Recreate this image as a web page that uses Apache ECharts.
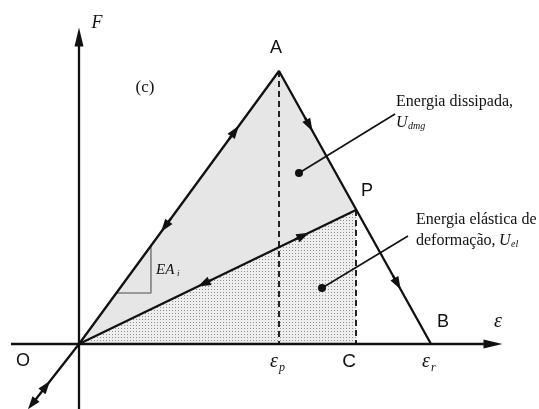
<!DOCTYPE html>
<html>
<head>
<meta charset="utf-8">
<script src="https://cdn.jsdelivr.net/npm/echarts@6/dist/echarts.min.js"></script>
<style>
  html, body { margin: 0; padding: 0; background: #ffffff; }
  #chart { width: 539px; height: 409px; }
</style>
</head>
<body>
<div id="chart"></div>
<script>
// Force–strain path of a damaged element (strain ε, force F), arbitrary units
const pointO = [0, 0];
const pointA = [200, 273];   // peak of loading: (ε_p, F_max)
const pointP = [277, 134];   // point reached on the softening branch
const pointC = [277, 0];     // strain at P
const pointB = [352, 0];     // ε_r, end of softening
const tailEnd = [-50, -64];  // compression branch below the origin

// Axis extents (strain axis and force axis)
const strainAxis = [-68, 423];
const forceAxis = [-65, 316];

// Labels placed along the strain axis
const strainTicks = ['ε', 'C', 'ε'];
const strainTickSubs = ['p', '', 'r'];

// Arrow positions as fractions along each branch
const loadArrows = [0.78];        // O → A
const reloadArrows = [0.43];      // A → O
const softenArrows = [0.2, 0.78]; // A → B
const unloadArrows = [0.45];      // P → O
const elasticArrows = [0.81];     // O → P
const tailArrows = [0.34];        // tail → O

// Slope indicator height on the loading branch
const slopeBase = 51, slopeRun = 34.6;

const lerp = (p, q, t) => [p[0] + (q[0] - p[0]) * t, p[1] + (q[1] - p[1]) * t];
const INK = '#111111';
const LW = 2.3;
const HEAD = [9, 13];

// arrowhead segments: a short stub ending at the arrow position
function arrowMarks(from, to, fracs, size) {
  return fracs.map(t => [
    { coord: lerp(from, to, t - 0.03), symbol: 'none' },
    { coord: lerp(from, to, t), symbol: 'triangle', symbolSize: size }
  ]);
}
function markLineOf(items) {
  return {
    silent: true, animation: false, symbol: ['none', 'triangle'],
    label: { show: false }, lineStyle: { color: INK, width: LW, type: 'solid' },
    itemStyle: { color: INK },
    emphasis: { disabled: true }, data: items
  };
}

// dotted fill for the elastic energy area
const dots = document.createElement('canvas');
dots.width = 3; dots.height = 3;
(function () {
  const g = dots.getContext('2d');
  g.fillStyle = '#eeeeee'; g.fillRect(0, 0, 3, 3);
  g.fillStyle = '#8e8e8e'; g.fillRect(1, 1, 1, 1);
})();

function polygonSeries(points, fill, z) {
  return {
    type: 'custom', z: z, silent: true, animation: false,
    data: points,
    renderItem: function (params, api) {
      if (params.dataIndex !== 0) return null;
      return {
        type: 'polygon',
        shape: { points: points.map(p => api.coord(p)) },
        style: { fill: fill, stroke: null }
      };
    }
  };
}

function lineSeries(data, style, z, extra) {
  return Object.assign({
    type: 'line', z: z, silent: true, animation: false,
    symbol: 'none', data: data,
    lineStyle: Object.assign({ color: INK, width: LW }, style)
  }, extra || {});
}

const slopeFoot = [slopeBase * pointA[0] / pointA[1], slopeBase];
const slopeCorner = [slopeFoot[0] + slopeRun, slopeBase];
const slopeTop = [slopeCorner[0], slopeCorner[0] * pointA[1] / pointA[0]];

const leaderDmg = [[220, 171], [316, 230]];
const leaderEl = [[243, 56], [329, 108]];

const chart = echarts.init(document.getElementById('chart'), null, { renderer: 'canvas' });

const serif = '"Liberation Serif", "DejaVu Serif", serif';
const sans = '"Liberation Sans", Arial, sans-serif';
function txt(text, x, y, font, align, extra) {
  return {
    type: 'text', silent: true, z: 100,
    style: Object.assign({ text: text, x: x, y: y, font: font, fill: INK,
      align: align || 'center', verticalAlign: 'middle' }, extra || {})
  };
}

const tickX = [pointA[0], pointC[0], pointB[0]];

chart.setOption({
  animation: false,
  backgroundColor: '#ffffff',
  grid: { left: 0, right: 0, top: 0, bottom: 0 },
  xAxis: { type: 'value', min: -79, max: 460, show: false },
  yAxis: { type: 'value', min: -65, max: 344, show: false },
  series: [
    polygonSeries([pointO, pointA, pointP], '#e6e6e6', 1),
    polygonSeries([pointO, pointP, pointC], { image: dots, repeat: 'repeat' }, 1),
    // dashed verticals at ε_p and at C
    lineSeries([pointA, [pointA[0], 0]], { type: [6, 4], color: '#222', width: 2 }, 2),
    lineSeries([pointP, pointC], { type: [6, 4], color: '#222', width: 2 }, 2),
    // axes
    lineSeries([[strainAxis[0], 0], [strainAxis[1] - 8, 0]], {}, 3,
      { markLine: markLineOf([[{ coord: [strainAxis[1] - 14, 0], symbol: 'none' },
        { coord: [strainAxis[1] - 9, 0], symbol: 'triangle', symbolSize: [9, 19] }]]) }),
    lineSeries([[0, forceAxis[0]], [0, forceAxis[1] - 8]], {}, 3,
      { markLine: markLineOf([[{ coord: [0, forceAxis[1] - 14], symbol: 'none' },
        { coord: [0, forceAxis[1] - 9], symbol: 'triangle', symbolSize: [9, 19] }]]) }),
    // loading / softening path O → A → B
    lineSeries([pointO, pointA, pointB], {}, 4, {
      markLine: markLineOf([]
        .concat(arrowMarks(pointO, pointA, loadArrows, HEAD))
        .concat(arrowMarks(pointA, pointO, reloadArrows.map(t => 1 - t), HEAD))
        .concat(arrowMarks(pointA, pointB, softenArrows, HEAD)))
    }),
    // unloading / reloading O ↔ P
    lineSeries([pointO, pointP], {}, 4, {
      markLine: markLineOf([]
        .concat(arrowMarks(pointP, pointO, unloadArrows.map(t => 1 - t), HEAD))
        .concat(arrowMarks(pointO, pointP, elasticArrows, HEAD)))
    }),
    // compression branch below origin
    lineSeries([pointO, lerp(pointO, tailEnd, 0.95)], {}, 4, {
      markLine: markLineOf([]
        .concat(arrowMarks(tailEnd, pointO, tailArrows, HEAD))
        .concat([[{ coord: lerp(pointO, tailEnd, 0.88), symbol: 'none' },
          { coord: lerp(pointO, tailEnd, 0.94), symbol: 'triangle', symbolSize: HEAD }]]))
    }),
    // slope indicator EA_i
    lineSeries([slopeFoot, slopeCorner, slopeTop], { color: '#808080', width: 1.6 }, 3),
    // leader lines to the energy labels
    lineSeries([{ value: leaderDmg[0], symbol: 'circle', symbolSize: 8 }, leaderDmg[1]],
      { width: 1.6 }, 5, { showSymbol: true, itemStyle: { color: INK } }),
    lineSeries([{ value: leaderEl[0], symbol: 'circle', symbolSize: 8 }, leaderEl[1]],
      { width: 1.6 }, 5, { showSymbol: true, itemStyle: { color: INK } })
  ]
});

// Text annotations, positioned from data coordinates
const px = p => chart.convertToPixel({ gridIndex: 0 }, p);
const graphics = [];
const pA = px(pointA), pP = px(pointP), pB = px(pointB), pO = px(pointO);
graphics.push(txt('A', pA[0] - 3, pA[1] - 23, '18px ' + sans));
graphics.push(txt('P', pP[0] + 11, pP[1] - 19, '18px ' + sans));
graphics.push(txt('B', pB[0] + 12, pB[1] - 22, '18px ' + sans));
graphics.push(txt('O', pO[0] - 56, pO[1] + 17, '18px ' + sans));
graphics.push(txt('(c)', 145, 88, '17px ' + serif));
graphics.push(txt('F', pO[0] + 18, 23, 'italic 18px ' + serif));
graphics.push(txt('ε', 498, 322, 'italic 20px ' + serif));
tickX.forEach((x, i) => {
  const p = px([x, 0]);
  if (strainTickSubs[i]) {
    graphics.push(txt(strainTicks[i], p[0] - 9, p[1] + 18, 'italic 20px ' + serif, 'left'));
    graphics.push(txt(strainTickSubs[i], p[0] + 0, p[1] + 24, 'italic 12px ' + serif, 'left'));
  } else {
    graphics.push(txt(strainTicks[i], p[0] - 7, p[1] + 18, '19px ' + sans));
  }
});
graphics.push(txt('Energia dissipada,', 396, 102, '16px ' + serif, 'left'));
graphics.push(txt('U', 396, 123, 'italic 16px ' + serif, 'left'));
graphics.push(txt('dmg', 408, 126, 'italic 10px ' + serif, 'left'));
graphics.push(txt('Energia elástica de', 416, 220, '16px ' + serif, 'left'));
graphics.push(txt('deformação, ', 416, 241, '16px ' + serif, 'left'));
graphics.push(txt('U', 499, 241, 'italic 16px ' + serif, 'left'));
graphics.push(txt('el', 511, 244, 'italic 10px ' + serif, 'left'));
graphics.push(txt('EA', 156, 270, 'italic 15px ' + serif, 'left'));
graphics.push(txt('i', 177, 274, 'italic 9px ' + serif, 'left'));
chart.setOption({ graphic: { elements: graphics } });
</script>
</body>
</html>
